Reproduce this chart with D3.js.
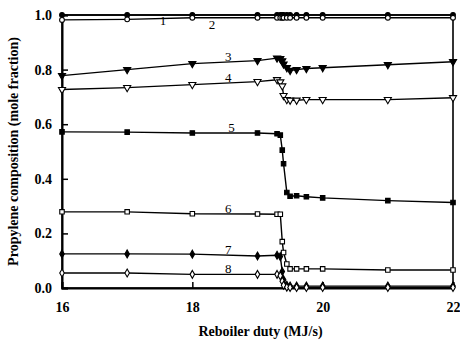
<!DOCTYPE html>
<html>
<head>
<meta charset="utf-8">
<script src="https://cdn.jsdelivr.net/npm/d3@7"></script>
<style>
  body { margin: 0; background: #fff; }
  text { font-family: "Liberation Serif", "Times New Roman", serif; }
</style>
</head>
<body>
<svg id="chart"></svg>
<script>
var margin = { top: 15, right: 7, bottom: 58, left: 62 },
    width = 460 - margin.left - margin.right,
    height = 346 - margin.top - margin.bottom;

// reboiler duty (MJ/s)
var duty = [16, 17, 18, 19, 19.3, 19.35, 19.38, 19.4, 19.45, 19.5, 19.6, 19.75, 20, 21, 22];

var s1 = [1.0, 1.0, 1.0, 1.0, 1.0, 1.0, 1.0, 1.0, 1.0, 1.0, 1.0, 1.0, 1.0, 1.0, 1.0];
var s2 = [0.982, 0.984, 0.99, 0.99, 0.99, 0.99, 0.99, 0.99, 0.99, 0.99, 0.99, 0.99, 0.99, 0.99, 0.99];
var s3 = [0.778, 0.8, 0.822, 0.833, 0.842, 0.84, 0.832, 0.82, 0.807, 0.797, 0.8, 0.804, 0.807, 0.818, 0.829];
var s4 = [0.727, 0.734, 0.745, 0.756, 0.763, 0.755, 0.74, 0.705, 0.69, 0.688, 0.688, 0.69, 0.69, 0.69, 0.697];
var s5 = [0.572, 0.571, 0.568, 0.568, 0.565, 0.56, 0.505, 0.455, 0.35, 0.336, 0.338, 0.334, 0.33, 0.32, 0.313];
var s6 = [0.279, 0.279, 0.272, 0.271, 0.27, 0.27, 0.17, 0.13, 0.088, 0.07, 0.07, 0.07, 0.07, 0.066, 0.066];
var s7 = [0.125, 0.125, 0.124, 0.117, 0.12, 0.115, 0.06, 0.03, 0.01, 0.007, 0.007, 0.007, 0.007, 0.007, 0.007];
var s8 = [0.055, 0.055, 0.05, 0.05, 0.05, 0.045, 0.025, 0.01, 0.003, 0.002, 0.002, 0.002, 0.002, 0.002, 0.002];

var seriesNames = ["1", "2", "3", "4", "5", "6", "7", "8"];
var seriesValues = [s1, s2, s3, s4, s5, s6, s7, s8];
var markers = ["circle", "circle", "triangle", "triangle", "square", "square", "diamond", "diamond"];
var filled = [true, false, true, false, true, false, true, false];
// where each number label sits along the x axis
var labelAt = [17.55, 18.3, 18.55, 18.55, 18.6, 18.55, 18.55, 18.55];

var xTicks = [16, 18, 20, 22];
var yTicks = [0, 0.2, 0.4, 0.6, 0.8, 1.0];

var svg = d3.select("#chart")
    .attr("width", width + margin.left + margin.right)
    .attr("height", height + margin.top + margin.bottom)
    .append("g")
    .attr("transform", "translate(" + margin.left + "," + margin.top + ")");

var x = d3.scaleLinear().domain([16, 22]).range([0, width]);
var y = d3.scaleLinear().domain([0, 1]).range([height, 0]);

var line = d3.line()
    .x(function(d) { return x(d[0]); })
    .y(function(d) { return y(d[1]); });

var symbolType = {
    circle: d3.symbolCircle,
    triangle: d3.symbolTriangle,
    square: d3.symbolSquare,
    diamond: d3.symbolDiamond
};
var symbolSize = { circle: 18, triangle: 22, square: 20, diamond: 18 };

// frame
svg.append("rect")
    .attr("width", width)
    .attr("height", height)
    .attr("fill", "none")
    .attr("stroke", "#000")
    .attr("stroke-width", 1.6);

// axes with inward ticks
var xAxis = svg.append("g")
    .attr("transform", "translate(0," + height + ")")
    .call(d3.axisBottom(x).tickValues(xTicks).tickSize(-6).tickPadding(14).tickFormat(d3.format("d")));
var yAxis = svg.append("g")
    .call(d3.axisLeft(y).tickValues(yTicks).tickSize(-6).tickPadding(10).tickFormat(d3.format(".1f")));

[xAxis, yAxis].forEach(function(a) {
    a.select(".domain").attr("stroke-width", 2);
    a.selectAll(".tick line").attr("stroke-width", 1.5);
    a.selectAll(".tick text")
        .attr("font-family", "Liberation Serif, serif")
        .attr("font-size", 14)
        .attr("font-weight", "bold")
        .attr("fill", "#000");
});

seriesValues.forEach(function(vals, i) {
    var pts = duty.map(function(d, j) { return [d, vals[j]]; });
    var g = svg.append("g").attr("class", "series");

    g.append("path")
        .datum(pts)
        .attr("d", line)
        .attr("fill", "none")
        .attr("stroke", "#000")
        .attr("stroke-width", 1.4);

    var m = markers[i];
    g.selectAll("path.mark")
        .data(pts)
        .enter().append("path")
        .attr("class", "mark")
        .attr("d", d3.symbol().type(symbolType[m]).size(symbolSize[m]))
        .attr("transform", function(d) {
            var rot = m === "triangle" ? " rotate(180)" : "";
            return "translate(" + x(d[0]) + "," + y(d[1]) + ")" + rot;
        })
        .attr("fill", filled[i] ? "#000" : "#fff")
        .attr("stroke", "#000")
        .attr("stroke-width", 1.1);

    // number label just above the line
    var lx = labelAt[i];
    var j = d3.bisectLeft(duty, lx);
    var t = (lx - duty[j - 1]) / (duty[j] - duty[j - 1]);
    var ly = vals[j - 1] + t * (vals[j] - vals[j - 1]);
    g.append("text")
        .attr("x", x(lx))
        .attr("y", y(ly) - (i === 0 ? -10 : (i === 1 ? -11 : 1)))
        .attr("text-anchor", "middle")
        .attr("font-size", 13)
        .attr("fill", "#000")
        .text(seriesNames[i]);
});

svg.append("text")
    .attr("x", width / 2 + 3)
    .attr("y", height + 48)
    .attr("text-anchor", "middle")
    .attr("font-size", 14)
    .attr("font-weight", "bold")
    .text("Reboiler duty (MJ/s)");

svg.append("text")
    .attr("transform", "translate(" + (-44) + "," + (height / 2) + ") rotate(-90)")
    .attr("text-anchor", "middle")
    .attr("font-size", 14)
    .attr("font-weight", "bold")
    .text("Propylene composition (mole fraction)");
</script>
</body>
</html>
